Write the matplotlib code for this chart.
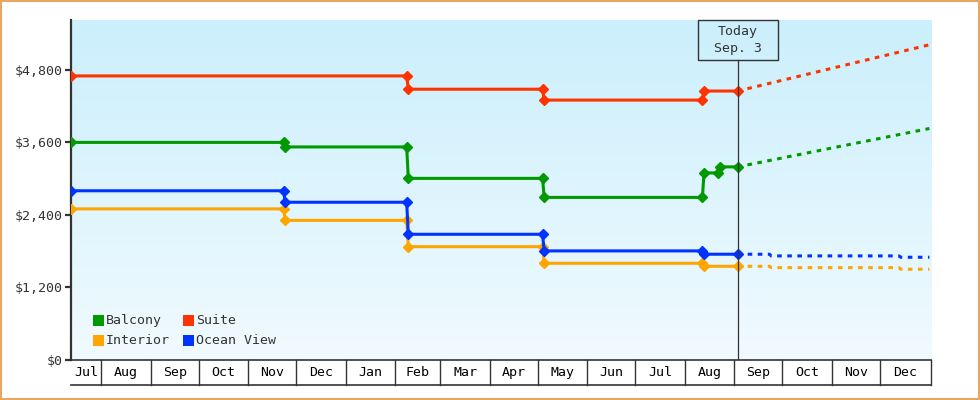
import numpy as np
import matplotlib
matplotlib.use("Agg")
import matplotlib.pyplot as plt
import matplotlib.dates as mdates
from matplotlib.patches import Rectangle
from matplotlib.transforms import blended_transform_factory
from matplotlib.colors import LinearSegmentedColormap
import datetime as dt

# ---------------- data ----------------
balcony_dates = ['2024-07-13', '2024-11-23', '2024-11-24', '2025-02-08', '2025-02-09',
                 '2025-05-04', '2025-05-05', '2025-08-12', '2025-08-13', '2025-08-22',
                 '2025-08-23', '2025-09-03']
balcony_vals = [3600, 3600, 3525, 3525, 3005, 3005, 2690, 2690, 3095, 3095, 3195, 3195]

suite_dates = ['2024-07-13', '2025-02-08', '2025-02-09', '2025-05-04', '2025-05-05',
               '2025-08-12', '2025-08-13', '2025-09-03']
suite_vals = [4700, 4700, 4480, 4480, 4300, 4300, 4450, 4450]

ocean_dates = ['2024-07-13', '2024-11-23', '2024-11-24', '2025-02-08', '2025-02-09',
               '2025-05-04', '2025-05-05', '2025-08-12', '2025-08-13', '2025-09-03']
ocean_vals = [2800, 2800, 2610, 2610, 2080, 2080, 1805, 1805, 1750, 1750]

interior_dates = ocean_dates
interior_vals = [2500, 2500, 2310, 2310, 1875, 1875, 1600, 1600, 1550, 1550]

# forecasts
suite_fc_dates = ['2025-09-03', '2026-01-01']
suite_fc_vals = [4450, 5215]
balcony_fc_dates = ['2025-09-03', '2026-01-01']
balcony_fc_vals = [3195, 3830]
ocean_fc_dates = ['2025-09-03', '2025-09-23', '2025-09-24', '2025-12-13', '2025-12-14', '2026-01-01']
ocean_fc_vals = [1750, 1750, 1722, 1722, 1700, 1700]
interior_fc_dates = ocean_fc_dates
interior_fc_vals = [1550, 1550, 1528, 1528, 1502, 1502]

series_names = ['Balcony', 'Suite', 'Interior', 'Ocean View']
series_colors = ['#009900', '#ff3300', '#ffa500', '#0033ff']

month_labels = ['Jul', 'Aug', 'Sep', 'Oct', 'Nov', 'Dec', 'Jan', 'Feb', 'Mar', 'Apr',
                'May', 'Jun', 'Jul', 'Aug', 'Sep', 'Oct', 'Nov', 'Dec']
y_ticks = [0, 1200, 2400, 3600, 4800]
today_date = '2025-09-03'
today_label = 'Today\nSep. 3'

x_start = '2024-07-13'
x_end = '2026-01-02'

# ---------------- plot ----------------
FONT = 'DejaVu Sans Mono'
TXT = '#333333'

def d(s):
    return mdates.date2num(dt.datetime.strptime(s, '%Y-%m-%d'))

fig = plt.figure(figsize=(9.8, 4.0), dpi=100)
fig.patch.set_facecolor('white')
fig.patches.append(Rectangle((0.001, 0.002), 0.998, 0.996, transform=fig.transFigure,
                             fill=False, edgecolor='#e9a660', linewidth=1.5))

ax = fig.add_axes([71/980, 40/400, 860/980, 340/400])
x0, x1 = d(x_start), d(x_end)
ax.set_xlim(x0, x1)
ax.set_ylim(0, 5625)

grad = np.linspace(0, 1, 256).reshape(-1, 1)
cmap = LinearSegmentedColormap.from_list('bg', ['#cbeffc', '#f1faff'])
ax.imshow(grad, extent=[0, 1, 0, 1], transform=ax.transAxes, cmap=cmap,
          aspect='auto', origin='upper', zorder=0)

lw = 2.2
ms = 5.2

hist = [(balcony_dates, balcony_vals), (suite_dates, suite_vals),
        (interior_dates, interior_vals), (ocean_dates, ocean_vals)]
fcs = [(balcony_fc_dates, balcony_fc_vals), (suite_fc_dates, suite_fc_vals),
       (interior_fc_dates, interior_fc_vals), (ocean_fc_dates, ocean_fc_vals)]

for i in [2, 3, 0, 1]:
    ds, vs = fcs[i]
    ln, = ax.plot([d(s) for s in ds], vs, color=series_colors[i], lw=lw, zorder=3,
                  solid_capstyle='butt')
    ln.set_dashes([1.5, 1.8])
    ln.set_dash_capstyle('butt')
    ds, vs = hist[i]
    ax.plot([d(s) for s in ds], vs, color=series_colors[i], lw=lw, marker='D',
            ms=ms, zorder=4)

# today line and box
td = d(today_date)
bt = blended_transform_factory(ax.transData, ax.transAxes)
box_h = 40/340
ax.plot([td, td], [0, 1 - box_h], color='#333333', lw=0.9, transform=bt, zorder=5)
box_w_days = 80 / 1.6
ax.add_patch(Rectangle((td - box_w_days/2, 1 - box_h), box_w_days, box_h,
                       transform=bt, fill=False, edgecolor='#333333', lw=1.0,
                       zorder=6, clip_on=False))
ax.text(td, 1 - box_h/2, today_label, ha='center', va='center', fontsize=9.5,
        family=FONT, color=TXT, linespacing=1.35, transform=bt, zorder=7)

for s in ['top', 'right']:
    ax.spines[s].set_visible(False)
ax.spines['left'].set_color('#333333')
ax.spines['left'].set_linewidth(1.6)
ax.spines['bottom'].set_color('#333333')
ax.spines['bottom'].set_linewidth(1.2)
ax.set_yticks(y_ticks)
ax.set_yticklabels(['$' + format(v, ',') for v in y_ticks], family=FONT,
                   fontsize=9.5, color=TXT)
ax.tick_params(axis='y', length=4, width=1.6, color='#333333', pad=2)
ax.set_xticks([])

# month cells below axis
cell_h = 25/340
starts = []
y, m = 2024, 7
for k in range(len(month_labels)):
    starts.append(mdates.date2num(dt.datetime(y, m, 1)))
    m += 1
    if m > 12:
        m = 1
        y += 1
starts[0] = x0
bounds = starts + [x1]
for k, lab in enumerate(month_labels):
    a, b = bounds[k], bounds[k+1]
    ax.text((a + b)/2, -cell_h/2, lab, transform=bt, ha='center', va='center',
            fontsize=9.5, family=FONT, color='black', clip_on=False)
for bx in bounds[1:]:
    ax.plot([bx, bx], [0, -cell_h], transform=bt, color='#333333', lw=1.0,
            clip_on=False)
ax.plot([x0, x1], [-cell_h, -cell_h], transform=bt, color='#333333', lw=1.2,
        clip_on=False)

# legend (manual)
leg_items = [(0, 93, 315), (1, 183, 315), (2, 93, 335), (3, 183, 335)]
for idx, px, py in leg_items:
    fig.patches.append(Rectangle((px/980, 1 - (py+11)/400), 11/980, 11/400,
                                 transform=fig.transFigure, facecolor=series_colors[idx],
                                 edgecolor='none', zorder=8))
    fig.text((px+13)/980, 1 - (py+5.5)/400, series_names[idx], ha='left', va='center',
             fontsize=9.5, family=FONT, color=TXT, zorder=9)

fig.savefig('out.png', dpi=100, facecolor='white')
